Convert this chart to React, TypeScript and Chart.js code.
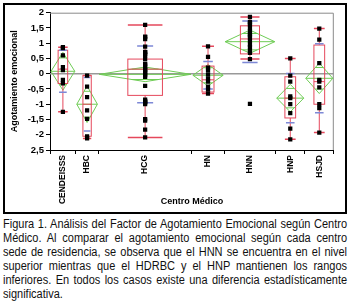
import React, { useEffect, useRef } from 'react';
import { Chart, registerables } from 'chart.js';

Chart.register(...registerables);

const categories = ['CENDEISSS', 'HBC', 'HCG', 'HN', 'HNN', 'HNP', 'HSJD'];
const sampleSizes = [8, 7, 29, 10, 16, 9, 9];

const cendeisssValues = [0.87, 0.84, 0.6, 0.22, 0.12, -0.2, -0.32, -1.25];
const hbcValues = [-0.06, -0.42, -0.77, -1.2, -1.48, -2.05, -2.12];
const hcgValues = [
  1.6, 1.22, 1.2, 1.13, 0.89, 0.72, 0.71, 0.65, 0.6, 0.49, 0.33, 0.3, 0.23, 0.15, 0.12,
  0.05, 0.01, -0.05, -0.1, -0.4, -0.85, -0.9, -0.92, -0.95, -1.0, -1.49, -1.54, -1.83, -2.09,
];
const hnValues = [0.9, 0.55, 0.2, 0.12, -0.02, -0.15, -0.26, -0.42, -0.52, -0.65];
const hnnValues = [1.86, 1.7, 1.67, 1.62, 1.51, 1.4, 1.3, 1.26, 1.19, 1.08, 0.95, 0.87, 0.76, 0.68, 0.48, -0.99];
const hnpValues = [0.5, -0.06, -0.26, -0.74, -0.8, -1.0, -1.29, -1.8, -2.15];
const hsjdValues = [1.48, 1.12, 0.35, -0.2, -0.26, -0.45, -1.0, -1.13, -1.93];

const groupValues = [cendeisssValues, hbcValues, hcgValues, hnValues, hnnValues, hnpValues, hsjdValues];

const quantile1 = [-0.32, -2.05, -0.71, -0.6, 0.65, -1.45, -1.0];
const medians = [0.15, -1.0, 0.15, -0.2, 1.14, -0.8, -0.26];
const quantile3 = [0.77, -0.06, 0.48, 0.25, 1.57, -0.1, 0.94];
const whiskerLow = [-1.25, -2.12, -2.09, -0.65, 0.48, -2.15, -1.93];
const whiskerHigh = [0.87, -0.06, 1.6, 0.9, 1.86, 0.5, 1.48];
const means = [0.08, -1.0, -0.02, -0.05, 1.05, -0.8, -0.15];
const ciHalf = [0.62, 0.6, 0.24, 0.35, 0.38, 0.45, 0.5];
const stdDevs = [0.69, 0.88, 0.93, 0.45, 0.68, 0.81, 1.13];
const grandMean = 0.0;

const yTickValues = [2, 1.5, 1, 0.5, 0, -0.5, -1, -1.5, -2, -2.5];
const yTickLabels = ['2', '1,5', '1', '0,5', '0', '-0,5', '-1', '-1,5', '-2', '2,5'];

const yTitle = 'Agotamiento emocional';
const xTitle = 'Centro Médico';
const caption =
  'Figura 1. Análisis del Factor de Agotamiento Emocional según Centro Médico. Al comparar el agotamiento emocional según cada centro sede de residencia, se observa que el HNN se encuentra en el nivel superior mientras que el HDRBC y el HNP mantienen los rangos inferiores. En todos los casos existe una diferencia estadísticamente significativa.';

const total = sampleSizes.reduce((a, b) => a + b, 0);
const boundaries: number[] = [0];
sampleSizes.forEach((n) => boundaries.push(boundaries[boundaries.length - 1] + n));
const centers = sampleSizes.map((n, i) => boundaries[i] + n / 2);

const FONT = "'Liberation Sans', Arial, sans-serif";
const RED = '#e5485c';
const GREEN = '#6fcc55';
const BLUE = '#7d88d6';

const overlayPlugin = {
  id: 'jmpOverlay',
  beforeDatasetsDraw(chart: any) {
    const { ctx, chartArea } = chart;
    const xs = chart.scales.x;
    const ys = chart.scales.y;
    ctx.save();
    ctx.strokeStyle = '#8a8a8a';
    ctx.lineWidth = 1;
    ctx.beginPath();
    ctx.moveTo(chartArea.left, chartArea.top + 0.5);
    ctx.lineTo(chartArea.right - 0.5, chartArea.top + 0.5);
    ctx.lineTo(chartArea.right - 0.5, chartArea.bottom);
    ctx.stroke();
    const gy = ys.getPixelForValue(grandMean);
    ctx.strokeStyle = '#999999';
    ctx.lineWidth = 1.5;
    ctx.beginPath();
    ctx.moveTo(chartArea.left, gy);
    ctx.lineTo(chartArea.right, gy);
    ctx.stroke();

    categories.forEach((_, i) => {
      const left = xs.getPixelForValue(boundaries[i]);
      const right = xs.getPixelForValue(boundaries[i + 1]);
      const cx = xs.getPixelForValue(centers[i]);
      const gw = right - left;
      const bw = gw * 0.37;
      const blw = Math.min(bw * 0.8, 16);

      const my = ys.getPixelForValue(means[i]);
      const ty = ys.getPixelForValue(means[i] + ciHalf[i]);
      const by = ys.getPixelForValue(means[i] - ciHalf[i]);
      ctx.strokeStyle = GREEN;
      ctx.lineWidth = 1;
      ctx.beginPath();
      ctx.moveTo(left + 1, my);
      ctx.lineTo(cx, ty);
      ctx.lineTo(right - 1, my);
      ctx.lineTo(cx, by);
      ctx.closePath();
      ctx.moveTo(left + 1, my);
      ctx.lineTo(right - 1, my);
      const f = Math.SQRT1_2;
      const hw = (gw / 2 - 1) * (1 - f);
      [means[i] + ciHalf[i] * f, means[i] - ciHalf[i] * f].forEach((v) => {
        const yy = ys.getPixelForValue(v);
        ctx.moveTo(cx - hw, yy);
        ctx.lineTo(cx + hw, yy);
      });
      ctx.stroke();

      const q1y = ys.getPixelForValue(quantile1[i]);
      const q3y = ys.getPixelForValue(quantile3[i]);
      const mdy = ys.getPixelForValue(medians[i]);
      const wly = ys.getPixelForValue(whiskerLow[i]);
      const why = ys.getPixelForValue(whiskerHigh[i]);
      ctx.strokeStyle = RED;
      ctx.lineWidth = 1;
      ctx.strokeRect(cx - bw / 2, q3y, bw, q1y - q3y);
      ctx.beginPath();
      ctx.moveTo(cx - bw / 2, mdy);
      ctx.lineTo(cx + bw / 2, mdy);
      ctx.moveTo(cx, q3y);
      ctx.lineTo(cx, why);
      ctx.moveTo(cx, q1y);
      ctx.lineTo(cx, wly);
      ctx.stroke();
      ctx.lineWidth = 1.5;
      ctx.beginPath();
      ctx.moveTo(cx - bw / 2, why);
      ctx.lineTo(cx + bw / 2, why);
      ctx.moveTo(cx - bw / 2, wly);
      ctx.lineTo(cx + bw / 2, wly);
      ctx.stroke();

      ctx.strokeStyle = BLUE;
      ctx.lineWidth = 1.5;
      ctx.beginPath();
      [means[i] + stdDevs[i], means[i] - stdDevs[i]].forEach((v) => {
        const yy = ys.getPixelForValue(v);
        ctx.moveTo(cx - blw / 2, yy);
        ctx.lineTo(cx + blw / 2, yy);
      });
      ctx.stroke();
    });
    ctx.restore();
  },
};

function isBoundary(v: number) {
  return boundaries.some((b) => Math.abs(b - v) < 1e-6);
}

export default function App() {
  const canvasRef = useRef<HTMLCanvasElement | null>(null);

  useEffect(() => {
    if (!canvasRef.current) return;
    const points: { x: number; y: number }[] = [];
    groupValues.forEach((vals, i) => vals.forEach((v) => points.push({ x: centers[i], y: v })));

    const chart = new Chart(canvasRef.current, {
      type: 'scatter',
      data: {
        datasets: [
          {
            data: points,
            pointStyle: 'rect',
            radius: 3,
            backgroundColor: '#000',
            borderColor: '#000',
            borderWidth: 0,
          },
        ],
      },
      options: {
        animation: false,
        responsive: false,
        devicePixelRatio: 1,
        layout: { padding: { top: 5, right: 7, left: 0, bottom: 0 } },
        plugins: { legend: { display: false }, tooltip: { enabled: false } },
        scales: {
          x: {
            type: 'linear',
            min: 0,
            max: total,
            afterBuildTicks: (scale: any) => {
              const vals = [...boundaries, ...centers].sort((a, b) => a - b);
              scale.ticks = vals.map((v) => ({ value: v }));
            },
            afterFit: (scale: any) => {
              scale.height = 62;
            },
            ticks: {
              autoSkip: false,
              maxRotation: 90,
              minRotation: 90,
              padding: 1,
              color: '#000',
              font: { family: FONT, size: 8.5, weight: 'bold' },
              callback: (v: any) => {
                const idx = centers.findIndex((c) => Math.abs(c - Number(v)) < 1e-6);
                return idx >= 0 ? categories[idx] : '';
              },
            },
            grid: {
              drawOnChartArea: false,
              tickLength: 4,
              color: (c: any) => (c.tick && isBoundary(c.tick.value) ? '#000' : 'rgba(0,0,0,0)'),
            },
            border: { color: '#000', width: 1 },
            title: {
              display: true,
              text: xTitle,
              color: '#000',
              font: { family: FONT, size: 9, weight: 'bold' },
              padding: { top: 0, bottom: 5 },
            },
          },
          y: {
            type: 'linear',
            min: -2.5,
            max: 2,
            afterBuildTicks: (scale: any) => {
              scale.ticks = yTickValues.map((v) => ({ value: v }));
            },
            afterFit: (scale: any) => {
              scale.width = 45;
            },
            ticks: {
              autoSkip: false,
              padding: 2,
              color: '#000',
              font: { family: FONT, size: 9.5, weight: 'bold' },
              callback: (v: any) => {
                const idx = yTickValues.findIndex((t) => Math.abs(t - Number(v)) < 1e-6);
                return idx >= 0 ? yTickLabels[idx] : '';
              },
            },
            grid: { drawOnChartArea: false, tickLength: 4, color: '#000' },
            border: { color: '#000', width: 1 },
            title: {
              display: true,
              text: yTitle,
              color: '#000',
              font: { family: FONT, size: 9, weight: 'bold' },
              padding: { top: 4, bottom: 2 },
            },
          },
        },
      },
      plugins: [overlayPlugin],
    } as any);
    return () => chart.destroy();
  }, []);

  return (
    <div style={{ position: 'absolute', left: 0, top: 0, width: 350, height: 303, background: '#fff' }}>
      <div
        style={{
          position: 'absolute',
          left: 3,
          top: 3,
          width: 340,
          height: 207,
          border: '2px solid #000',
        }}
      >
        <canvas ref={canvasRef} width={340} height={207} style={{ display: 'block', width: 340, height: 207 }} />
      </div>
      <div
        style={{
          position: 'absolute',
          left: 3,
          top: 217,
          width: 391,
          fontFamily: FONT,
          fontSize: 12.5,
          lineHeight: '14px',
          textAlign: 'justify',
          color: '#111',
          transform: 'scaleX(0.88)',
          transformOrigin: '0 0',
        }}
      >
        {caption}
      </div>
    </div>
  );
}
